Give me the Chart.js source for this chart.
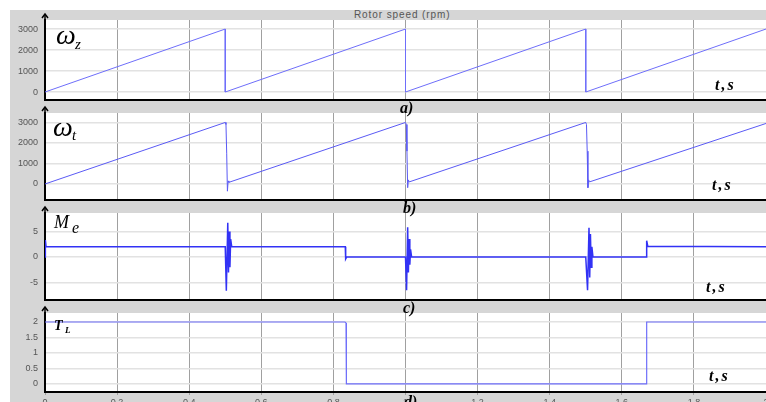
<!DOCTYPE html>
<html>
<head>
<meta charset="utf-8">
<script src="https://cdn.jsdelivr.net/npm/chart.js@4/dist/chart.umd.min.js"></script>
<style>
  html, body { margin: 0; padding: 0; background: #fff; width: 766px; height: 402px; overflow: hidden; }
  #frame { position: absolute; left: 10px; top: 10px; width: 756px; height: 392px; background: #d6d6d6; }
  canvas { position: absolute; left: 0; }
  .lbl { position: absolute; font-family: 'Liberation Serif', serif; font-style: italic; color: #000; line-height: 1; white-space: nowrap; }
  .b { font-weight: bold; }
  #title { position: absolute; left: 354px; top: 10px; font: 10px 'Liberation Sans', sans-serif; letter-spacing: 0.9px; color: #555; line-height: 1; }
</style>
</head>
<body>
<div id="frame"></div>
<div id="title">Rotor speed (rpm)</div>
<canvas id="c1" width="766" height="90" style="top:12px"></canvas>
<canvas id="c2" width="766" height="97" style="top:105px"></canvas>
<canvas id="c3" width="766" height="97" style="top:205px"></canvas>
<canvas id="c4" width="766" height="107" style="top:305px"></canvas>

<span class="lbl" style="left:56px;top:21px;font-size:28px">ω</span>
<span class="lbl" style="left:75px;top:37px;font-size:15px">z</span>
<span class="lbl" style="left:53px;top:113px;font-size:28px">ω</span>
<span class="lbl" style="left:72px;top:128px;font-size:15px">t</span>
<span class="lbl" style="left:54px;top:213px;font-size:18px">M</span>
<span class="lbl" style="left:72px;top:220px;font-size:16px">e</span>
<span class="lbl b" style="left:54px;top:319px;font-size:14px">T</span>
<span class="lbl b" style="left:65px;top:326px;font-size:9px">L</span>

<span class="lbl b" style="left:715px;top:77px;font-size:16px;letter-spacing:2px">t,s</span>
<span class="lbl b" style="left:712px;top:177px;font-size:16px;letter-spacing:2px">t,s</span>
<span class="lbl b" style="left:706px;top:279px;font-size:16px;letter-spacing:2px">t,s</span>
<span class="lbl b" style="left:709px;top:368px;font-size:16px;letter-spacing:2px">t,s</span>

<span class="lbl b" style="left:400px;top:100px;font-size:16px">a)</span>
<span class="lbl b" style="left:403px;top:200px;font-size:16px">b)</span>
<span class="lbl b" style="left:403px;top:300px;font-size:16px">c)</span>
<span class="lbl b" style="left:404px;top:394px;font-size:16px">d)</span>

<script>
// time axis
const xTicks = [0, 0.2, 0.4, 0.6, 0.8, 1, 1.2, 1.4, 1.6, 1.8, 2];

// a) reference speed, rpm
const refT = [0, 0.5, 0.5, 1.0, 1.0, 1.5, 1.5, 2.0];
const refW = [0, 3000, 0, 3000, 0, 3000, 0, 3000];

// b) rotor speed, rpm
const speedT = [0, 0.5, 0.502, 0.504, 0.506, 0.508, 0.51,
  1.0, 1.002, 1.004, 1.006, 1.008, 1.01,
  1.5, 1.502, 1.504, 1.506, 1.508, 1.51, 2.0];
const speedW = [0, 3000, 2900, 1500, -350, 150, 80,
  3000, 2900, 1600, -180, 200, 100,
  3000, 2900, 1600, -180, 200, 100, 2950];
const speedTicks = [0, 1000, 2000, 3000];

// c) electromagnetic torque
const torqueT = [0, 0.001, 0.003, 0.5, 0.503, 0.507, 0.509, 0.511, 0.513, 0.515, 0.518,
  0.833, 0.834, 0.837, 1.0, 1.003, 1.006, 1.008, 1.010, 1.012, 1.014, 1.017,
  1.5, 1.505, 1.509, 1.511, 1.513, 1.515, 1.517, 1.52,
  1.668, 1.669, 1.672, 2.0];
const torqueM = [0, 3.3, 2, 2, -6.6, 6.7, -3, 5, -2, 3.5, 2,
  2, -0.4, 0, 0, -6.5, 5.8, -3, 3.5, -1.5, 1.5, 0,
  0, -6.5, 5.7, -4, 4.5, -2, 2, 0,
  0, 3.2, 2.1, 2];
const torqueTicks = [-5, 0, 5];

// d) load torque
const loadT = [0, 0.832, 0.835, 0.836, 1.669, 1.669, 2.0];
const loadV = [2, 2, 1.97, 0, 0, 2, 2];
const loadTicks = [0, 0.5, 1, 1.5, 2];

const fmt = v => String(+Number(v).toFixed(2));
const pts = (xs, ys) => xs.map((x, i) => ({ x: x, y: ys[i] }));

const panelPlugin = {
  id: 'panel',
  beforeDraw(chart) {
    const a = chart.chartArea, ctx = chart.ctx;
    ctx.save();
    ctx.fillStyle = '#ffffff';
    ctx.fillRect(a.left, a.top, a.right - a.left, a.bottom - a.top);
    ctx.restore();
  },
  afterDraw(chart) {
    const a = chart.chartArea, ctx = chart.ctx;
    ctx.save();
    ctx.strokeStyle = '#000';
    ctx.lineWidth = 1.5;
    ctx.beginPath();
    ctx.moveTo(a.left, a.top);
    ctx.lineTo(a.left, a.top - 5);
    ctx.stroke();
    ctx.beginPath();
    ctx.moveTo(a.left - 3, a.top - 2);
    ctx.lineTo(a.left, a.top - 6);
    ctx.lineTo(a.left + 3, a.top - 2);
    ctx.stroke();
    ctx.restore();
  }
};

function makePanel(id, data, yMin, yMax, yTicks, color, width, showX) {
  return new Chart(document.getElementById(id), {
    type: 'line',
    data: {
      datasets: [{
        data: data,
        borderColor: color,
        borderWidth: width,
        pointRadius: 0,
        tension: 0,
        fill: false
      }]
    },
    plugins: [panelPlugin],
    options: {
      responsive: false,
      animation: false,
      events: [],
      layout: { padding: { top: 8, right: 0, bottom: showX ? 0 : 2, left: 0 } },
      plugins: { legend: { display: false }, tooltip: { enabled: false } },
      scales: {
        x: {
          type: 'linear',
          min: 0,
          max: 2,
          afterBuildTicks: s => { s.ticks = xTicks.map(v => ({ value: v })); },
          afterFit: s => {
            s.height = showX ? 20 : 0;
            s.paddingLeft = 0; s.paddingRight = 0;
          },
          grid: { color: '#a0a0a0', lineWidth: 1, drawTicks: showX, tickLength: 3 },
          border: { color: '#000', width: 2 },
          ticks: {
            display: showX,
            callback: fmt,
            color: '#555',
            padding: 2,
            maxRotation: 0,
            autoSkip: false,
            font: { family: 'Liberation Sans', size: 9 }
          }
        },
        y: {
          min: yMin,
          max: yMax,
          afterBuildTicks: s => { s.ticks = yTicks.map(v => ({ value: v })); },
          afterFit: s => {
            s.width = 45;
            s.paddingTop = 0; s.paddingBottom = 0;
          },
          grid: { color: '#e2e2e2', lineWidth: 1.5, drawTicks: false },
          border: { color: '#000', width: 2 },
          ticks: {
            callback: fmt,
            color: '#555',
            padding: 7,
            font: { family: 'Liberation Sans', size: 9 }
          }
        }
      }
    }
  });
}

makePanel('c1', pts(refT, refW), -380, 3430, speedTicks, 'rgb(110,110,250)', 1, false);
makePanel('c2', pts(speedT, speedW), -780, 3460, speedTicks, 'rgb(90,90,245)', 1, false);
makePanel('c3', pts(torqueT, torqueM), -8.4, 8.6, torqueTicks, 'rgb(50,50,245)', 1.5, false);
makePanel('c4', pts(loadT, loadV), -0.26, 2.29, loadTicks, 'rgb(110,110,250)', 1.2, true);
</script>
</body>
</html>
